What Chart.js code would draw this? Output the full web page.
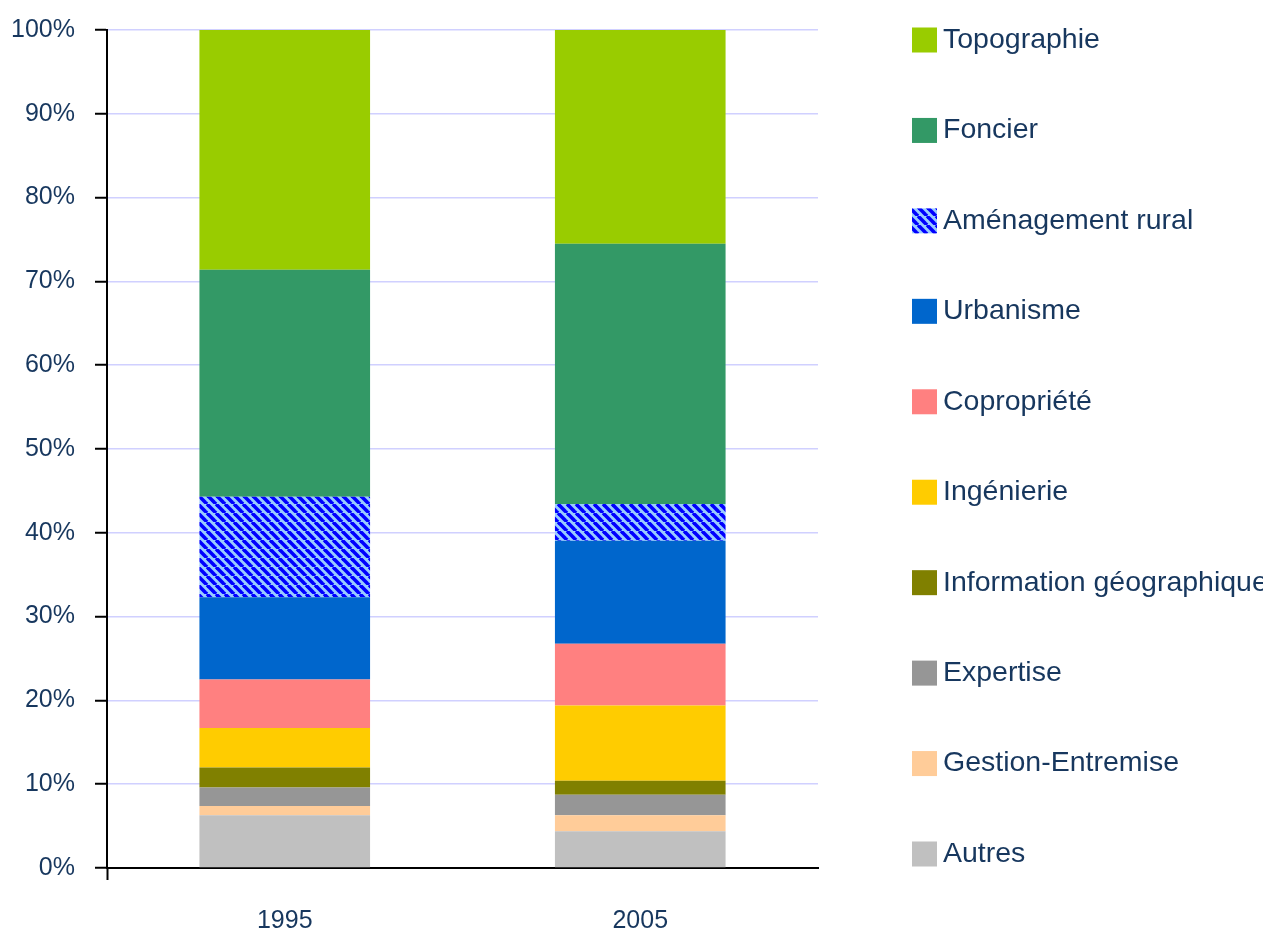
<!DOCTYPE html>
<html>
<head>
<meta charset="utf-8">
<script src="https://cdn.jsdelivr.net/npm/chart.js@4/dist/chart.umd.min.js"></script>
<style>
  html, body { margin: 0; padding: 0; background: #fff; }
  #wrap { width: 1263px; height: 934px; position: relative; }
</style>
</head>
<body>
<div id="wrap"><canvas id="chart"></canvas></div>
<script>
// stacking order, bottom to top
const years = ['1995', '2005'];
const segments = ['Autres', 'Gestion-Entremise', 'Expertise', 'Information géographique',
    'Ingénierie', 'Copropriété', 'Urbanisme', 'Aménagement rural', 'Foncier', 'Topographie'];
const share1995 = [6.3, 1.1, 2.2, 2.4, 4.7, 5.8, 9.8, 12.0, 27.1, 28.6];
const share2005 = [4.4, 1.9, 2.45, 1.65, 9.0, 7.35, 12.3, 4.4, 31.05, 25.5];
const palette = ['#c0c0c0', '#ffcc99', '#969696', '#808000', '#ffcc00',
    '#ff8080', '#0066cc', 'hatch', '#339966', '#99cc00'];

const fontfam = '"Liberation Sans", Arial, sans-serif';
const textColor = '#17375e';

const makeHatch = () => {
    const s = 9;
    const c = document.createElement('canvas');
    c.width = s; c.height = s;
    const g = c.getContext('2d');
    g.fillStyle = '#99ccff';
    g.fillRect(0, 0, s, s);
    g.strokeStyle = '#0000ff';
    g.lineWidth = 3.6;
    for (const k of [-s, 0, s]) {
        g.beginPath();
        g.moveTo(k, 0);
        g.lineTo(k + s, s);
        g.stroke();
    }
    return g.createPattern(c, 'repeat');
};
const hatch = makeHatch();
const fillFor = i => palette[i] === 'hatch' ? hatch : palette[i];

const datasets = segments.map((name, i) => ({
    label: name,
    data: [share1995[i], share2005[i]],
    backgroundColor: fillFor(i),
    borderWidth: 0,
    barPercentage: 0.48,
    categoryPercentage: 1
}));

// legend on the right, top item = top of the stack
const sideLegend = {
    id: 'sideLegend',
    afterDraw(chart) {
        const {ctx, chartArea} = chart;
        const boxX = chartArea.right + 94;
        const box = 25;
        const step = (chartArea.bottom - chartArea.top - 24) / (segments.length - 1);
        ctx.save();
        ctx.font = `28.5px ${fontfam}`;
        ctx.textBaseline = 'middle';
        [...segments].reverse().forEach((name, j) => {
            const i = segments.length - 1 - j;
            const cy = chartArea.top + 10 + j * step;
            ctx.fillStyle = fillFor(i);
            ctx.fillRect(boxX, cy - box / 2, box, box);
            ctx.fillStyle = textColor;
            ctx.fillText(name, boxX + 31, cy);
        });
        ctx.restore();
    }
};

new Chart(document.getElementById('chart'), {
    type: 'bar',
    data: { labels: years, datasets: datasets },
    options: {
        responsive: true,
        maintainAspectRatio: false,
        animation: false,
        layout: { padding: { top: 30, right: 445, left: 0, bottom: 0 } },
        plugins: { legend: { display: false }, tooltip: { enabled: false } },
        scales: {
            x: {
                stacked: true,
                afterFit: s => { s.height = 66; },
                grid: {
                    offset: true,
                    color: 'transparent',
                    tickColor: c => c.index === 0 ? '#000' : 'transparent',
                    tickLength: 12,
                    tickWidth: 2
                },
                border: { color: '#000', width: 2 },
                ticks: {
                    padding: 26,
                    color: textColor,
                    font: { family: fontfam, size: 25 }
                }
            },
            y: {
                stacked: true,
                min: 0,
                max: 100,
                afterFit: s => { s.width = 107; s.paddingTop = 0; s.paddingBottom = 0; },
                grid: {
                    color: c => c.tick && c.tick.value === 0 ? 'transparent' : '#d0d0ff',
                    lineWidth: 1.5,
                    tickColor: '#000',
                    tickLength: 12,
                    tickWidth: 2
                },
                border: { color: '#000', width: 2 },
                ticks: {
                    stepSize: 10,
                    padding: 20,
                    color: textColor,
                    font: { family: fontfam, size: 25 },
                    callback: v => v + '%'
                }
            }
        }
    },
    plugins: [sideLegend]
});
</script>
</body>
</html>
